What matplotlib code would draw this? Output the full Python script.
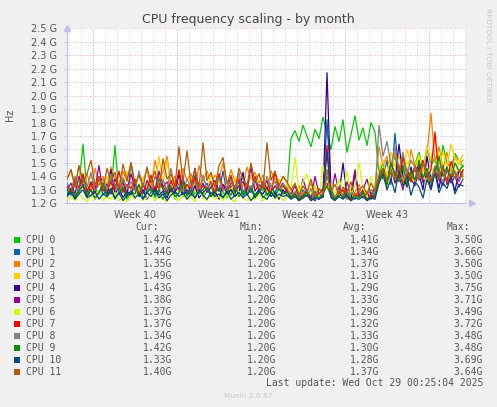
import matplotlib.pyplot as plt
from matplotlib.patches import Rectangle
import numpy as np

# samples every 8 hours, values in GHz (pre-phase / green-high phase / all-high phase)
cpu0 = [1.26, 1.30, 1.24, 1.33, 1.64, 1.28, 1.25, 1.31, 1.27, 1.35,
        1.24, 1.29, 1.63, 1.26, 1.32, 1.23, 1.28, 1.36, 1.25, 1.30,
        1.27, 1.33, 1.24, 1.29, 1.38, 1.26, 1.31, 1.23, 1.28, 1.34,
        1.25, 1.30, 1.27, 1.36, 1.24, 1.29, 1.32, 1.26, 1.40, 1.28,
        1.24, 1.31, 1.27, 1.34, 1.25, 1.29, 1.33, 1.26, 1.30, 1.24,
        1.28, 1.35, 1.26, 1.31, 1.27, 1.30,
        1.68, 1.74, 1.66, 1.78, 1.70, 1.62, 1.75, 1.68, 1.84, 1.72,
        1.60, 1.77, 1.66, 1.82, 1.58, 1.71, 1.85, 1.67, 1.76, 1.63,
        1.80, 1.73,
        1.42, 1.50, 1.38, 1.47, 1.55, 1.40, 1.52, 1.44, 1.36, 1.49,
        1.58, 1.45, 1.62, 1.48, 1.54, 1.41, 1.63, 1.50, 1.46, 1.57,
        1.52, 1.47]
cpu1 = [1.30, 1.26, 1.35, 1.28, 1.40, 1.25, 1.33, 1.29, 1.37, 1.26,
        1.31, 1.27, 1.34, 1.29, 1.38, 1.25, 1.50, 1.30, 1.27, 1.35,
        1.28, 1.33, 1.26, 1.39, 1.30, 1.27, 1.36, 1.29, 1.32, 1.25,
        1.34, 1.28, 1.41, 1.27, 1.30, 1.35, 1.26, 1.32, 1.29, 1.44,
        1.27, 1.33, 1.30, 1.36, 1.26, 1.31, 1.28, 1.37, 1.29, 1.34,
        1.26, 1.31, 1.28, 1.35, 1.27, 1.30,
        1.25, 1.28, 1.23, 1.30, 1.26, 1.24, 1.29, 1.23, 1.27, 1.82,
        1.30, 1.25, 1.28, 1.24, 1.31, 1.26, 1.23, 1.29, 1.25, 1.27,
        1.24, 1.30,
        1.45, 1.38, 1.52, 1.34, 1.72, 1.40, 1.48, 1.33, 1.44, 1.37,
        1.50, 1.35, 1.42, 1.31, 1.47, 1.39, 1.34, 1.46, 1.38, 1.43,
        1.36, 1.44]
cpu2 = [1.38, 1.45, 1.32, 1.48, 1.36, 1.42, 1.30, 1.46, 1.35, 1.40,
        1.33, 1.47, 1.38, 1.31, 1.44, 1.36, 1.50, 1.34, 1.41, 1.37,
        1.45, 1.32, 1.52, 1.38, 1.43, 1.55, 1.35, 1.40, 1.33, 1.46,
        1.37, 1.42, 1.31, 1.48, 1.36, 1.44, 1.34, 1.41, 1.38, 1.50,
        1.33, 1.45, 1.36, 1.40, 1.32, 1.47, 1.38, 1.43, 1.35, 1.41,
        1.30, 1.44, 1.37, 1.33, 1.40, 1.35,
        1.30, 1.26, 1.33, 1.24, 1.29, 1.35, 1.25, 1.31, 1.27, 1.45,
        1.28, 1.24, 1.32, 1.26, 1.30, 1.23, 1.28, 1.34, 1.25, 1.29,
        1.27, 1.33,
        1.62, 1.48, 1.55, 1.42, 1.58, 1.45, 1.52, 1.40, 1.60, 1.47,
        1.54, 1.44, 1.57, 1.87, 1.50, 1.62, 1.46, 1.58, 1.43, 1.55,
        1.49, 1.52]
cpu3 = [1.32, 1.28, 1.38, 1.30, 1.35, 1.27, 1.42, 1.31, 1.36, 1.29,
        1.40, 1.33, 1.28, 1.37, 1.31, 1.44, 1.30, 1.35, 1.28, 1.39,
        1.32, 1.36, 1.29, 1.55, 1.34, 1.52, 1.30, 1.38, 1.27, 1.35,
        1.31, 1.40, 1.28, 1.36, 1.33, 1.29, 1.42, 1.31, 1.37, 1.30,
        1.34, 1.28, 1.39, 1.32, 1.36, 1.29, 1.41, 1.33, 1.30, 1.37,
        1.28, 1.35, 1.31, 1.38, 1.29, 1.34,
        1.27, 1.24, 1.30, 1.23, 1.28, 1.25, 1.32, 1.24, 1.27, 1.35,
        1.26, 1.23, 1.29, 1.25, 1.31, 1.24, 1.28, 1.26, 1.30, 1.23,
        1.27, 1.25,
        1.45, 1.52, 1.40, 1.58, 1.47, 1.55, 1.43, 1.60, 1.50, 1.48,
        1.56, 1.44, 1.62, 1.52, 1.67, 1.49, 1.58, 1.46, 1.64, 1.53,
        1.50, 1.56]
cpu4 = [1.26, 1.31, 1.24, 1.29, 1.34, 1.25, 1.30, 1.23, 1.28, 1.33,
        1.26, 1.45, 1.27, 1.32, 1.24, 1.29, 1.26, 1.35, 1.25, 1.30,
        1.23, 1.28, 1.32, 1.26, 1.29, 1.24, 1.31, 1.27, 1.42, 1.25,
        1.30, 1.26, 1.33, 1.24, 1.28, 1.31, 1.25, 1.29, 1.23, 1.34,
        1.27, 1.30, 1.25, 1.28, 1.43, 1.26, 1.31, 1.24, 1.29, 1.27,
        1.32, 1.25, 1.28, 1.23, 1.30, 1.26,
        1.24, 1.27, 1.23, 1.26, 1.29, 1.24, 1.22, 1.27, 1.25, 2.17,
        1.28, 1.24, 1.26, 1.50, 1.25, 1.23, 1.42, 1.26, 1.24, 1.28,
        1.23, 1.26,
        1.38, 1.45, 1.33, 1.50, 1.36, 1.64, 1.40, 1.32, 1.47, 1.35,
        1.42, 1.30, 1.55, 1.37, 1.44, 1.31, 1.48, 1.34, 1.40, 1.29,
        1.45, 1.38]
cpu5 = [1.30, 1.35, 1.27, 1.40, 1.32, 1.28, 1.36, 1.31, 1.48, 1.29,
        1.34, 1.27, 1.38, 1.31, 1.35, 1.28, 1.42, 1.30, 1.33, 1.27,
        1.37, 1.31, 1.29, 1.44, 1.32, 1.36, 1.28, 1.34, 1.30, 1.39,
        1.27, 1.33, 1.46, 1.30, 1.35, 1.28, 1.32, 1.37, 1.29, 1.34,
        1.31, 1.40, 1.28, 1.33, 1.36, 1.30, 1.47, 1.29, 1.34, 1.31,
        1.37, 1.28, 1.33, 1.30, 1.35, 1.29,
        1.27, 1.33, 1.25, 1.38, 1.28, 1.24, 1.40, 1.27, 1.31, 1.35,
        1.26, 1.42, 1.28, 1.24, 1.36, 1.27, 1.45, 1.25, 1.30, 1.38,
        1.26, 1.32,
        1.36, 1.42, 1.32, 1.47, 1.35, 1.40, 1.30, 1.45, 1.38, 1.33,
        1.48, 1.36, 1.41, 1.31, 1.44, 1.37, 1.33, 1.46, 1.35, 1.40,
        1.32, 1.38]
cpu6 = [1.23, 1.25, 1.22, 1.27, 1.24, 1.21, 1.26, 1.23, 1.30, 1.22,
        1.25, 1.23, 1.28, 1.22, 1.24, 1.21, 1.26, 1.23, 1.35, 1.22,
        1.24, 1.27, 1.22, 1.25, 1.23, 1.21, 1.28, 1.24, 1.22, 1.26,
        1.23, 1.25, 1.21, 1.32, 1.24, 1.22, 1.27, 1.23, 1.25, 1.22,
        1.26, 1.23, 1.21, 1.29, 1.24, 1.22, 1.25, 1.23, 1.27, 1.22,
        1.24, 1.31, 1.23, 1.26, 1.22, 1.25,
        1.32, 1.54, 1.28, 1.36, 1.42, 1.27, 1.33, 1.25, 1.48, 1.30,
        1.35, 1.26, 1.38, 1.29, 1.44, 1.27, 1.33, 1.50, 1.31, 1.26,
        1.40, 1.29,
        1.35, 1.42, 1.30, 1.48, 1.38, 1.45, 1.33, 1.52, 1.40, 1.36,
        1.55, 1.42, 1.34, 1.50, 1.39, 1.58, 1.44, 1.37, 1.48, 1.41,
        1.53, 1.38]
cpu7 = [1.33, 1.28, 1.38, 1.31, 1.42, 1.29, 1.35, 1.27, 1.40, 1.32,
        1.29, 1.36, 1.30, 1.44, 1.28, 1.34, 1.31, 1.38, 1.27, 1.33,
        1.30, 1.41, 1.29, 1.35, 1.32, 1.28, 1.37, 1.30, 1.45, 1.29,
        1.34, 1.31, 1.39, 1.28, 1.33, 1.30, 1.36, 1.27, 1.42, 1.31,
        1.29, 1.35, 1.32, 1.38, 1.28, 1.34, 1.30, 1.40, 1.29, 1.36,
        1.31, 1.28, 1.43, 1.30, 1.33, 1.29,
        1.24, 1.27, 1.22, 1.26, 1.29, 1.23, 1.25, 1.28, 1.24, 1.63,
        1.27, 1.23, 1.26, 1.30, 1.24, 1.22, 1.27, 1.25, 1.29, 1.23,
        1.26, 1.24,
        1.40, 1.46, 1.35, 1.50, 1.42, 1.38, 1.55, 1.41, 1.36, 1.48,
        1.43, 1.52, 1.39, 1.45, 1.73, 1.40, 1.47, 1.36, 1.51, 1.42,
        1.38, 1.45]
cpu8 = [1.35, 1.30, 1.40, 1.28, 1.37, 1.32, 1.43, 1.29, 1.34, 1.38,
        1.30, 1.42, 1.33, 1.28, 1.39, 1.31, 1.36, 1.29, 1.44, 1.32,
        1.35, 1.28, 1.40, 1.33, 1.37, 1.30, 1.46, 1.31, 1.34, 1.29,
        1.38, 1.32, 1.36, 1.28, 1.41, 1.30, 1.35, 1.33, 1.39, 1.29,
        1.32, 1.37, 1.30, 1.43, 1.28, 1.35, 1.31, 1.38, 1.33, 1.29,
        1.40, 1.32, 1.36, 1.30, 1.34, 1.31,
        1.26, 1.29, 1.24, 1.28, 1.25, 1.31, 1.23, 1.27, 1.25, 1.45,
        1.28, 1.24, 1.30, 1.26, 1.23, 1.28, 1.25, 1.29, 1.24, 1.27,
        1.30, 1.26,
        1.78, 1.55, 1.66, 1.48, 1.62, 1.45, 1.58, 1.42, 1.52, 1.47,
        1.40, 1.50, 1.44, 1.38, 1.48, 1.42, 1.36, 1.46, 1.40, 1.44,
        1.37, 1.42]
cpu9 = [1.27, 1.31, 1.25, 1.29, 1.33, 1.26, 1.30, 1.24, 1.28, 1.35,
        1.26, 1.30, 1.23, 1.28, 1.32, 1.25, 1.29, 1.27, 1.34, 1.24,
        1.28, 1.31, 1.26, 1.30, 1.23, 1.29, 1.33, 1.25, 1.28, 1.36,
        1.26, 1.30, 1.24, 1.29, 1.27, 1.32, 1.25, 1.28, 1.31, 1.24,
        1.30, 1.26, 1.33, 1.25, 1.29, 1.27, 1.31, 1.24, 1.28, 1.34,
        1.26, 1.29, 1.25, 1.31, 1.27, 1.28,
        1.24, 1.27, 1.23, 1.25, 1.28, 1.22, 1.26, 1.24, 1.27, 1.33,
        1.25, 1.23, 1.27, 1.24, 1.29, 1.23, 1.26, 1.24, 1.28, 1.22,
        1.25, 1.27,
        1.38, 1.45, 1.34, 1.50, 1.40, 1.36, 1.48, 1.33, 1.43, 1.37,
        1.52, 1.39, 1.46, 1.35, 1.42, 1.55, 1.40, 1.47, 1.38, 1.50,
        1.44, 1.48]
cpu10 = [1.25, 1.28, 1.23, 1.27, 1.30, 1.24, 1.26, 1.29, 1.23, 1.27,
         1.25, 1.31, 1.24, 1.28, 1.22, 1.26, 1.29, 1.24, 1.27, 1.23,
         1.28, 1.25, 1.30, 1.24, 1.27, 1.22, 1.26, 1.29, 1.25, 1.28,
         1.23, 1.27, 1.24, 1.30, 1.26, 1.23, 1.28, 1.25, 1.27, 1.24,
         1.29, 1.23, 1.26, 1.28, 1.24, 1.27, 1.22, 1.26, 1.30, 1.25,
         1.23, 1.28, 1.24, 1.27, 1.25, 1.26,
         1.23, 1.25, 1.22, 1.24, 1.26, 1.22, 1.24, 1.23, 1.25, 1.58,
         1.24, 1.22, 1.25, 1.23, 1.26, 1.22, 1.24, 1.23, 1.25, 1.22,
         1.24, 1.23,
         1.35, 1.42, 1.30, 1.38, 1.28, 1.45, 1.33, 1.40, 1.26, 1.36,
         1.32, 1.24, 1.38, 1.30, 1.43, 1.28, 1.35, 1.31, 1.40, 1.27,
         1.34, 1.33]
cpu11 = [1.38, 1.45, 1.32, 1.48, 1.35, 1.42, 1.52, 1.33, 1.40, 1.30,
         1.46, 1.36, 1.43, 1.31, 1.49, 1.37, 1.50, 1.34, 1.41, 1.32,
         1.47, 1.35, 1.44, 1.30, 1.53, 1.38, 1.42, 1.33, 1.62, 1.36,
         1.59, 1.34, 1.45, 1.31, 1.65, 1.37, 1.43, 1.32, 1.48, 1.54,
         1.35, 1.41, 1.30, 1.46, 1.38, 1.33, 1.50, 1.36, 1.42, 1.31,
         1.65, 1.37, 1.44, 1.33, 1.40, 1.36,
         1.30, 1.35, 1.26, 1.33, 1.28, 1.38, 1.25, 1.31, 1.27, 1.40,
         1.29, 1.34, 1.26, 1.32, 1.28, 1.36, 1.25, 1.30, 1.33, 1.27,
         1.35, 1.29,
         1.40, 1.46, 1.36, 1.43, 1.38, 1.48, 1.35, 1.42, 1.39, 1.45,
         1.37, 1.50, 1.41, 1.36, 1.44, 1.38, 1.47, 1.35, 1.42, 1.39,
         1.45, 1.40]

series = [cpu0, cpu1, cpu2, cpu3, cpu4, cpu5, cpu6, cpu7, cpu8, cpu9, cpu10, cpu11]
names = ['CPU 0', 'CPU 1', 'CPU 2', 'CPU 3', 'CPU 4', 'CPU 5',
         'CPU 6', 'CPU 7', 'CPU 8', 'CPU 9', 'CPU 10', 'CPU 11']
colors = ['#00CC00', '#0066B3', '#FF8000', '#FFCC00', '#330099', '#990099',
          '#CCFF00', '#FF0000', '#808080', '#008F00', '#00487D', '#B35A00']

cur = [1.47, 1.44, 1.35, 1.49, 1.43, 1.38, 1.37, 1.37, 1.34, 1.42, 1.33, 1.40]
mins = [1.20] * 12
avg = [1.41, 1.34, 1.37, 1.31, 1.29, 1.33, 1.29, 1.32, 1.33, 1.30, 1.28, 1.37]
maxs = [3.50, 3.66, 3.50, 3.50, 3.75, 3.71, 3.49, 3.72, 3.48, 3.48, 3.69, 3.64]

week_labels = ['Week 40', 'Week 41', 'Week 42', 'Week 43']
yticks = [1.2, 1.3, 1.4, 1.5, 1.6, 1.7, 1.8, 1.9, 2.0, 2.1, 2.2, 2.3, 2.4, 2.5]

W, H = 497, 407
def fx(px):
    return px / W
def fy(py):
    return 1 - py / H

txt = '#555555'
fig = plt.figure(figsize=(W / 100, H / 100), dpi=100, facecolor='#F0F0F0')
ax = fig.add_axes([fx(67), fy(203.3), (466 - 67) / W, (203.3 - 28.3) / H])
ax.set_facecolor('white')

# x in days from the left edge of the plot; first week boundary 26 px in (12 px per day)
first_week = 26 / 12
ax.set_xlim(0, 399 / 12)
ax.set_ylim(1.2, 2.5)

for d in np.arange(first_week - 2, 33.3, 1.0):
    ax.axvline(d, color='#CFCFCF', lw=0.6, ls=(0, (1, 2)), zorder=0)
for k in range(5):
    ax.axvline(first_week + 7 * k, color='#E8A0A0', lw=0.6, ls=(0, (1, 2)), zorder=0.5)
for v in yticks[1:]:
    ax.axhline(v, color='#E8A0A0', lw=0.6, ls=(0, (1, 2)), zorder=0.5)

for i, vals in enumerate(series):
    t = np.arange(len(vals)) / 3.0
    ax.plot(t, vals, color=colors[i], lw=0.9, zorder=2 + i)

for s in ['top', 'right']:
    ax.spines[s].set_visible(False)
for s in ['left', 'bottom']:
    ax.spines[s].set_color('#C0C0E8')
    ax.spines[s].set_linewidth(0.8)
ax.plot([0], [1.0], marker='^', ms=4, color='#C0C0E8', transform=ax.transAxes, clip_on=False)
ax.plot([1.015], [0], marker='>', ms=4, color='#C0C0E8', transform=ax.transAxes, clip_on=False)

ax.set_yticks(yticks)
ax.set_yticklabels([f'{v:.1f} G' for v in yticks])
ax.set_xticks([first_week + 3.5 + 7 * k for k in range(4)])
ax.set_xticklabels(week_labels)
ax.tick_params(axis='y', length=2, width=0.6, color='#C0C0E8', pad=5, labelsize=7, labelcolor=txt)
ax.tick_params(axis='x', length=0, pad=5, labelsize=7, labelcolor=txt)

fig.text(fx(248), fy(19), 'CPU frequency scaling - by month', ha='center', va='center',
         fontsize=9, color='#444444')
fig.text(fx(10), fy(115), 'Hz', rotation=90, ha='center', va='center', fontsize=7, color=txt)
fig.text(fx(488), fy(8), 'RRDTOOL / TOBI OETIKER', rotation=270, ha='center', va='top',
         fontsize=5.3, color='#C8C8C8')

mono = 'DejaVu Sans Mono'
fs = 7
for col, hx in zip(['Cur:', 'Min:', 'Avg:', 'Max:'], [159, 263, 366, 470]):
    fig.text(fx(hx), fy(227), col, ha='right', va='center', family=mono, fontsize=fs, color=txt)
for i, name in enumerate(names):
    y = 240 + 12 * i
    fig.patches.append(Rectangle((fx(14), fy(y + 3)), 6 / W, 6 / H, facecolor=colors[i],
                                 edgecolor='none', transform=fig.transFigure))
    fig.text(fx(26.5), fy(y), name, ha='left', va='center', family=mono, fontsize=fs, color=txt)
    for vals, cx in zip([cur, mins, avg, maxs], [172, 276, 379, 483]):
        fig.text(fx(cx), fy(y), f'{vals[i]:.2f}G', ha='right', va='center', family=mono,
                 fontsize=fs, color=txt)
fig.text(fx(483), fy(383), 'Last update: Wed Oct 29 00:25:04 2025', ha='right', va='center',
         family=mono, fontsize=fs, color=txt)
fig.text(fx(248), fy(396), 'Munin 2.0.67', ha='center', va='center', fontsize=5.3, color='#C8C8C8')

fig.savefig('out.png', dpi=100, facecolor=fig.get_facecolor())
